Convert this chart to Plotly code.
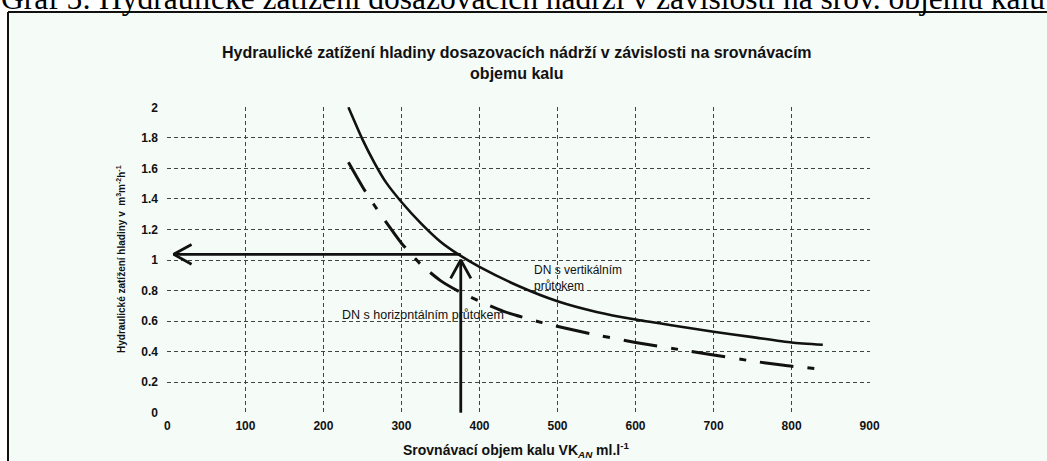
import plotly.graph_objects as go

# ---- data ----
vert_x = [232, 250, 265, 280, 300, 325, 350, 375, 400, 450, 500, 550, 600, 650, 700, 750, 800, 840]
vert_y = [2.00, 1.79, 1.64, 1.51, 1.38, 1.24, 1.12, 1.03, 0.955, 0.83, 0.73, 0.66, 0.61, 0.57, 0.53, 0.495, 0.46, 0.445]

horiz_x = [232, 250, 265, 280, 300, 325, 350, 375, 400, 430, 480, 535, 600, 660, 700, 750, 790, 834]
horiz_y = [1.64, 1.48, 1.36, 1.25, 1.11, 0.97, 0.865, 0.79, 0.73, 0.665, 0.59, 0.525, 0.46, 0.41, 0.378, 0.338, 0.31, 0.287]

read_x = 376      # VK_AN read-off point
read_y = 1.037    # resulting hydraulic load
arrow_tip_x = 8
arrow_tip_y = 1.0

x_ticks = [0, 100, 200, 300, 400, 500, 600, 700, 800, 900]
y_ticks = [0, 0.2, 0.4, 0.6, 0.8, 1, 1.2, 1.4, 1.6, 1.8, 2]

caption = "Graf 5: Hydraulické zatížení dosazovacích nádrží v závislosti na srov. objemu kalu"
title_text = "Hydraulické zatížení hladiny dosazovacích nádrží v závislosti na srovnávacím<br>objemu kalu"
y_title = "Hydraulické zatížení hladiny v  m<sup>3</sup>m<sup>-2</sup>h<sup>-1</sup>"
x_title = "Srovnávací objem kalu VK<sub><i>AN</i></sub> ml.l<sup>-1</sup>"
label_vert = "DN s vertikálním<br>průtokem"
label_horiz = "DN s horizontálním průtokem"

SANS = "Liberation Sans Narrow, Liberation Sans, Arial, sans-serif"
BLACK = "#111111"

fig = go.Figure()

fig.add_trace(go.Scatter(x=vert_x, y=vert_y, mode="lines",
                         line=dict(color=BLACK, width=2.6, shape="spline", smoothing=0.6),
                         hoverinfo="skip", showlegend=False))
fig.add_trace(go.Scatter(x=horiz_x, y=horiz_y, mode="lines",
                         line=dict(color=BLACK, width=3, dash="34px,14px,7px,14px",
                                   shape="spline", smoothing=0.6),
                         hoverinfo="skip", showlegend=False))

# reading arrows (open chevron heads)
hx, hy = 23, 0.065   # head arm size in data units (horizontal arrow)
vx, vy = 13, 0.12    # head arm size (vertical arrow)
fig.add_trace(go.Scatter(
    x=[read_x, arrow_tip_x, None, arrow_tip_x + hx, arrow_tip_x, arrow_tip_x + hx],
    y=[read_y, read_y, None, read_y + hy, read_y, read_y - hy],
    mode="lines", line=dict(color=BLACK, width=2.8), hoverinfo="skip", showlegend=False))
fig.add_trace(go.Scatter(
    x=[read_x, read_x, None, read_x - vx, read_x, read_x + vx],
    y=[0, arrow_tip_y, None, arrow_tip_y - vy, arrow_tip_y, arrow_tip_y - vy],
    mode="lines", line=dict(color=BLACK, width=2.8), hoverinfo="skip", showlegend=False))

W, H = 1047, 461
L, R, T, B = 167, 177, 107, 48
pw, ph = W - L - R, H - T - B


def px(xp):
    return (xp - L) / pw


def py(yp):
    return (H - B - yp) / ph


shapes = [
    # scanned page background inside frame
    dict(type="rect", xref="paper", yref="paper", x0=px(8), x1=px(1060), y0=py(480), y1=py(12),
         fillcolor="#f5fbf7", line=dict(width=0), layer="below"),
    # frame
    dict(type="line", xref="paper", yref="paper", x0=px(8), x1=px(1060), y0=py(12), y1=py(12),
         line=dict(color=BLACK, width=2), layer="above"),
    dict(type="line", xref="paper", yref="paper", x0=px(8), x1=px(8), y0=py(12), y1=py(480),
         line=dict(color=BLACK, width=2), layer="above"),
]

annotations = [
    dict(text=caption, xref="paper", yref="paper", x=px(-1), y=py(-1), xanchor="left", yanchor="middle",
         showarrow=False, font=dict(family="Liberation Serif, Times New Roman, serif", size=31.5, color="#000")),
    dict(text=title_text, xref="paper", yref="paper", x=px(517), y=py(63), xanchor="center", yanchor="middle",
         showarrow=False, font=dict(family=SANS, size=16, color=BLACK, weight="bold")),
    dict(text=y_title, xref="paper", yref="paper", x=px(121), y=py(259), xanchor="center", yanchor="middle",
         textangle=-90, showarrow=False, font=dict(family=SANS, size=10, color=BLACK, weight="bold")),
    dict(text=x_title, xref="paper", yref="paper", x=px(516), y=py(450), xanchor="center", yanchor="middle",
         showarrow=False, font=dict(family=SANS, size=14, color=BLACK, weight="bold")),
    dict(text=label_vert, x=467, y=0.88, xanchor="left", yanchor="middle", align="left",
         showarrow=False, font=dict(family="Liberation Sans, Arial, sans-serif", size=12, color=BLACK)),
    dict(text=label_horiz, x=221, y=0.64, xanchor="left", yanchor="middle", align="left",
         showarrow=False, font=dict(family="Liberation Sans, Arial, sans-serif", size=12.5, color=BLACK)),
]

grid = dict(showgrid=True, gridcolor="#3f4542", gridwidth=1, griddash="4px,3px", zeroline=False,
            showline=False, ticks="")

fig.update_layout(
    width=W, height=H, autosize=False,
    margin=dict(l=L, r=R, t=T, b=B, pad=0),
    paper_bgcolor="white", plot_bgcolor="rgba(0,0,0,0)",
    shapes=shapes, annotations=annotations, showlegend=False,
    xaxis=dict(range=[-0.5, 900.5], tickvals=x_ticks, ticktext=[str(v) for v in x_ticks],
               tickfont=dict(family=SANS, size=12, color=BLACK, weight="bold"),
               ticklabelstandoff=4, **grid),
    yaxis=dict(range=[-0.002, 2.002], tickvals=y_ticks, ticktext=[f"{v:g}" for v in y_ticks],
               tickfont=dict(family=SANS, size=12, color=BLACK, weight="bold"),
               ticklabelstandoff=8, **grid),
)

fig.write_html("out.html")
